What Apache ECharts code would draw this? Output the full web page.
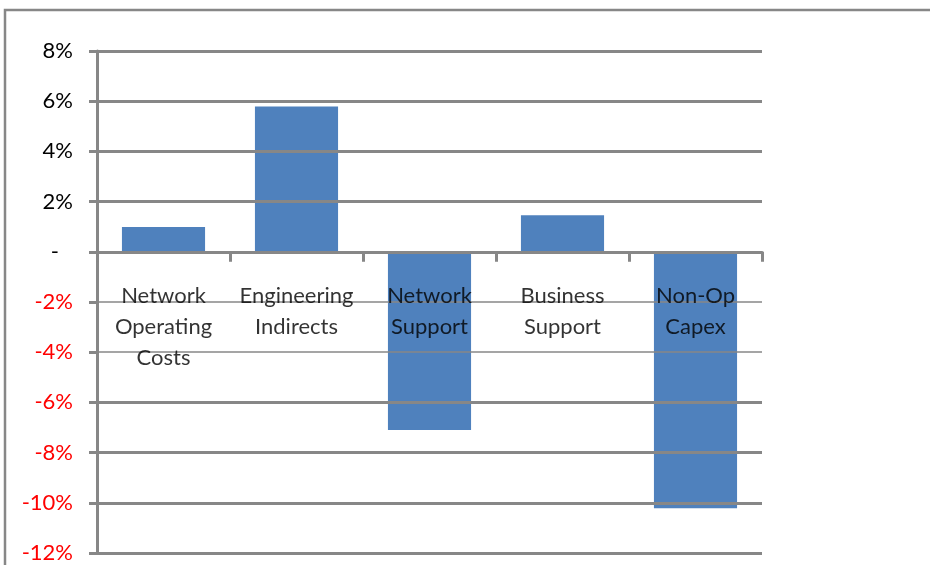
<!DOCTYPE html>
<html>
<head>
<meta charset="utf-8">
<script src="https://cdn.jsdelivr.net/npm/echarts@6/dist/echarts.min.js"></script>
<style>
  html, body { margin: 0; padding: 0; background: #fff; }
  #chart { width: 930px; height: 565px; }
</style>
</head>
<body>
<div id="chart"></div>
<script>
// Cost categories and their change (%)
const categories = [
  'Network\nOperating\nCosts',
  'Engineering\nIndirects',
  'Network\nSupport',
  'Business\nSupport',
  'Non-Op\nCapex'
];
const changePct = [0.99, 5.79, -7.1, 1.46, -10.22];

// Value-axis ticks (%)
const yTicks = [-12, -10, -8, -6, -4, -2, 0, 2, 4, 6, 8];
// Grid lines drawn thin where the category labels sit
const thinGridTicks = [-2, -4];

const GRID_GREY = '#878787';
const FONT = 'Lato, "Liberation Sans", sans-serif';

const chart = echarts.init(document.getElementById('chart'));

const gridLines = yTicks
  .filter(v => v !== 0)
  .map(v => ({
    yAxis: v,
    lineStyle: {
      color: GRID_GREY,
      type: 'solid',
      width: thinGridTicks.includes(v) ? 1.5 : 3
    }
  }));

// Category names hang just under the zero line
const labelPoints = categories.map((c, i) => [i, 0]);

chart.setOption({
  animation: false,
  graphic: [{
    type: 'rect',
    shape: { x: 5, y: 10, width: 940, height: 600 },
    style: { fill: 'none', stroke: GRID_GREY, lineWidth: 2.5 },
    silent: true
  }],
  grid: { left: 97, right: 168, top: 51, bottom: 12, containLabel: false, outerBoundsMode: 'none' },
  xAxis: {
    type: 'category',
    data: categories,
    z: 10,
    axisLine: { onZero: true, lineStyle: { color: GRID_GREY, width: 3 } },
    axisTick: { show: true, interval: 0, length: 10, inside: false, lineStyle: { color: GRID_GREY, width: 3 } },
    axisLabel: { show: false },
    splitLine: { show: false }
  },
  yAxis: {
    type: 'value',
    min: yTicks[0],
    max: yTicks[yTicks.length - 1],
    interval: 2,
    axisLine: { show: true, lineStyle: { color: GRID_GREY, width: 3 } },
    axisTick: { show: true, length: 8, inside: false, lineStyle: { color: GRID_GREY, width: 3 } },
    splitLine: { show: false },
    axisLabel: {
      margin: 24,
      fontFamily: FONT,
      fontSize: 22,
      color: v => (v < 0 ? '#FF0000' : '#000000'),
      formatter: v => (v === 0 ? '{z|-}' : v + '%'),
      rich: { z: { color: '#000', fontFamily: FONT, fontSize: 22, padding: [0, 14, 0, 0] } }
    }
  },
  series: [
    {
      type: 'line',
      data: [],
      z: 1,
      silent: true,
      markLine: {
        silent: true,
        symbol: ['none', 'none'],
        label: { show: false },
        data: gridLines
      }
    },
    {
      type: 'bar',
      data: changePct,
      z: 3,
      barCategoryGap: '37.5%',
      itemStyle: { color: '#4F81BD' }
    },
    {
      type: 'scatter',
      data: labelPoints,
      z: 20,
      silent: true,
      symbolSize: 1,
      itemStyle: { color: 'rgba(0,0,0,0)' },
      label: {
        show: true,
        position: 'bottom',
        distance: 28,
        color: '#000',
        fontFamily: FONT,
        fontSize: 22,
        lineHeight: 31,
        align: 'center',
        formatter: p => categories[p.dataIndex]
      }
    }
  ]
});
</script>
</body>
</html>
